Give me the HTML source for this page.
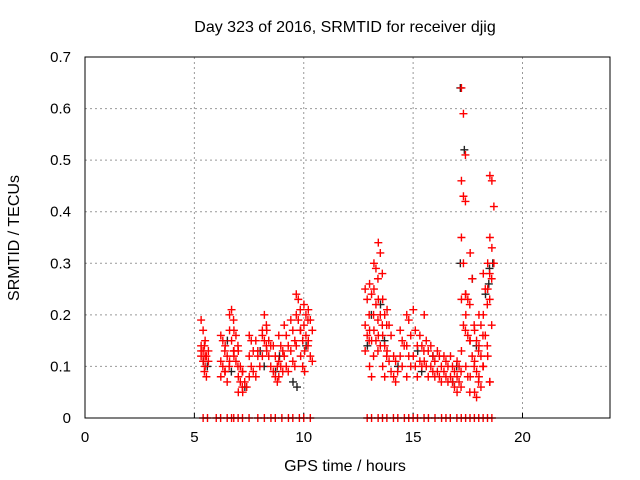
<!DOCTYPE html>
<html><head><meta charset="utf-8"><style>
body{margin:0;background:#fff}
svg{display:block;font-family:"Liberation Sans",sans-serif}
</style></head><body>
<svg id="chart" width="640" height="480">
<text x="345" y="32" text-anchor="middle" font-size="16">Day 323 of 2016, SRMTID for receiver djig</text>
<text x="345" y="471" text-anchor="middle" font-size="16">GPS time / hours</text>
<text transform="translate(19,238) rotate(-90)" text-anchor="middle" font-size="16">SRMTID / TECUs</text>
<g id="grid"></g><g id="axes"></g><g id="black"></g><g id="red"></g><g id="zeros"></g>
<rect x="85" y="57" width="525" height="361" fill="none" stroke="#000"/>
</svg>
<script>
const xTicks=[0,5,10,15,20];
const yTicks=[0,0.1,0.2,0.3,0.4,0.5,0.6,0.7];
const yTickLabels=["0","0.1","0.2","0.3","0.4","0.5","0.6","0.7"];
const redHours=[5.4,5.55,6.3,6.5,6.7,6.9,7.1,7.3,7.6,7.9,8.2,8.4,8.7,8.95,9.2,9.5,9.75,9.95,10.1,10.3,
12.9,13.1,13.3,13.5,13.7,13.9,14.2,14.5,14.8,15.1,15.4,15.6,15.9,16.2,16.5,16.8,17.1,17.3,17.5,17.7,17.9,18.1,18.3,18.5,18.6];
const redValues=[[.19,.17,.15,.14,.13,.12,.12,.11,.10,.13],[.14,.12,.11,.09,.08,.13],[.16,.15,.13,.11,.1,.09,.08],[.14,.12,.1,.09,.07],[.2,.21,.19,.17,.15,.13,.11],[.17,.16,.14,.12,.11,.1,.13],[.13,.1,.09,.08,.07,.06,.05],[.09,.07,.06,.05],[.16,.15,.13,.12,.1,.09,.08],[.15,.12,.1,.08,.13],[.17,.2,.18,.16,.15,.14,.12],[.17,.15,.14,.13,.12,.1],[.14,.12,.1,.09,.08,.07],[.16,.14,.13,.11,.1,.09,.08],[.18,.16,.14,.12,.1,.09],[.19,.17,.15,.13,.11,.1],[.24,.23,.21,.2,.19,.17,.14],[.17,.15,.13,.12,.1,.09],[.22,.2,.19,.18,.16,.14],[.21,.19,.17,.15,.12,.11],
[.25,.23,.2,.18,.16,.15,.13],[.26,.24,.2,.17,.15,.12,.1,.08],[.3,.29,.27,.25,.22,.19,.17,.15,.13],[.34,.32,.28,.23,.2,.18,.16,.14],[.23,.2,.18,.16,.14,.12,.1,.08],[.21,.18,.16,.13,.11,.09],[.12,.11,.09,.08,.07],[.17,.15,.14,.12,.1],[.2,.19,.16,.14,.12,.1,.08],[.21,.17,.14,.12,.1,.08],[.16,.14,.13,.11,.1],[.2,.15,.13,.11,.1,.08],[.14,.12,.11,.1,.09,.08],[.13,.12,.1,.09,.08,.07],[.12,.11,.1,.09,.08,.07],[.12,.1,.09,.08,.07,.06],[.11,.1,.09,.08,.07,.06,.05],[.64,.59,.51,.46,.43,.42,.35,.3,.24,.23,.18,.17,.13],[.24,.23,.22,.2,.16,.15,.1,.08,.05],[.32,.27,.18,.15,.12,.1,.08],[.17,.15,.13,.11,.09,.07,.05,.04],[.2,.18,.16,.14,.12,.1,.08,.06],[.28,.25,.22,.2,.16,.14,.1],[.3,.28,.27,.25,.23,.18,.12,.07],[.47,.46,.41,.35,.33,.3,.07]];
const blackHours=[5.5,6.6,7.4,8.1,8.8,9.6,10.2,13.0,13.6,14.4,15.3,16.0,16.9,17.25,17.8,18.4,18.55];
const blackValues=[[.11,.1],[.15,.09],[.06],[.13,.1],[.09,.12],[.07,.06],[.14],[.14,.2],[.22,.15],[.1],[.13,.09],[.12],[.07,.1],[.64,.52,.3],[.27,.14],[.24,.29],[.26,.3]];
const zeroHours=[5.4,5.6,6.0,6.2,6.5,6.7,6.8,7.0,7.2,7.5,7.9,8.2,8.5,8.7,9.0,9.3,9.5,9.8,10.0,10.3,12.9,13.1,13.4,13.6,13.8,14.1,14.3,14.6,14.8,15.0,15.2,15.5,15.7,16.0,16.3,16.5,16.7,17.0,17.2,17.4,17.6,17.8,18.0,18.2,18.4,18.6];
const X0=85,X1=610,Y0=418,Y1=57;
const xs=h=>X0+h/24*(X1-X0), ys=v=>Y0-v/0.7*(Y0-Y1);
const NS="http://www.w3.org/2000/svg";
function mk(tag,attrs,parent){const e=document.createElementNS(NS,tag);for(const k in attrs)e.setAttribute(k,attrs[k]);parent.appendChild(e);return e;}
const grid=document.getElementById('grid'),axes=document.getElementById('axes');
xTicks.forEach(t=>{const x=xs(t);
 if(t>0){const g=mk('line',{x1:x,x2:x,y1:Y1,y2:Y0,stroke:'#999','stroke-dasharray':'2,3'},grid);
 }
 const tk=mk('line',{x1:x,x2:x,y1:Y0,y2:Y0-5,stroke:'#000'},axes);
 
 const l=mk('text',{x:x,y:Y0+24,'text-anchor':'middle','font-size':15},axes);l.textContent=t;
 });
yTicks.forEach((t,i)=>{const y=ys(t);
 if(t>0&&t<0.7){const g=mk('line',{x1:X0,x2:X1,y1:y,y2:y,stroke:'#999','stroke-dasharray':'2,3'},grid);
 }
 const l=mk('text',{x:X0-14,y:y+5,'text-anchor':'end','font-size':15},axes);l.textContent=yTickLabels[i];
 });
function plus(g,x,y,c,name){const p=mk('path',{d:`M${x-4},${y}h8M${x},${y-4}v8`,stroke:c,'stroke-width':1.4,fill:'none'},g);
 }
const bg=document.getElementById('black'),rg=document.getElementById('red'),zg=document.getElementById('zeros');
blackHours.forEach((h,i)=>blackValues[i].forEach((v,j)=>plus(bg,xs(h)+(j%2?2:-2),ys(v),'#222','black-point')));
redHours.forEach((h,i)=>redValues[i].forEach((v,j)=>plus(rg,xs(h)+(j%3-1)*2,ys(v),'#f00','red-point')));
zeroHours.forEach(h=>plus(zg,xs(h),Y0,'#f00','zero-point'));
</script>
</body></html>
